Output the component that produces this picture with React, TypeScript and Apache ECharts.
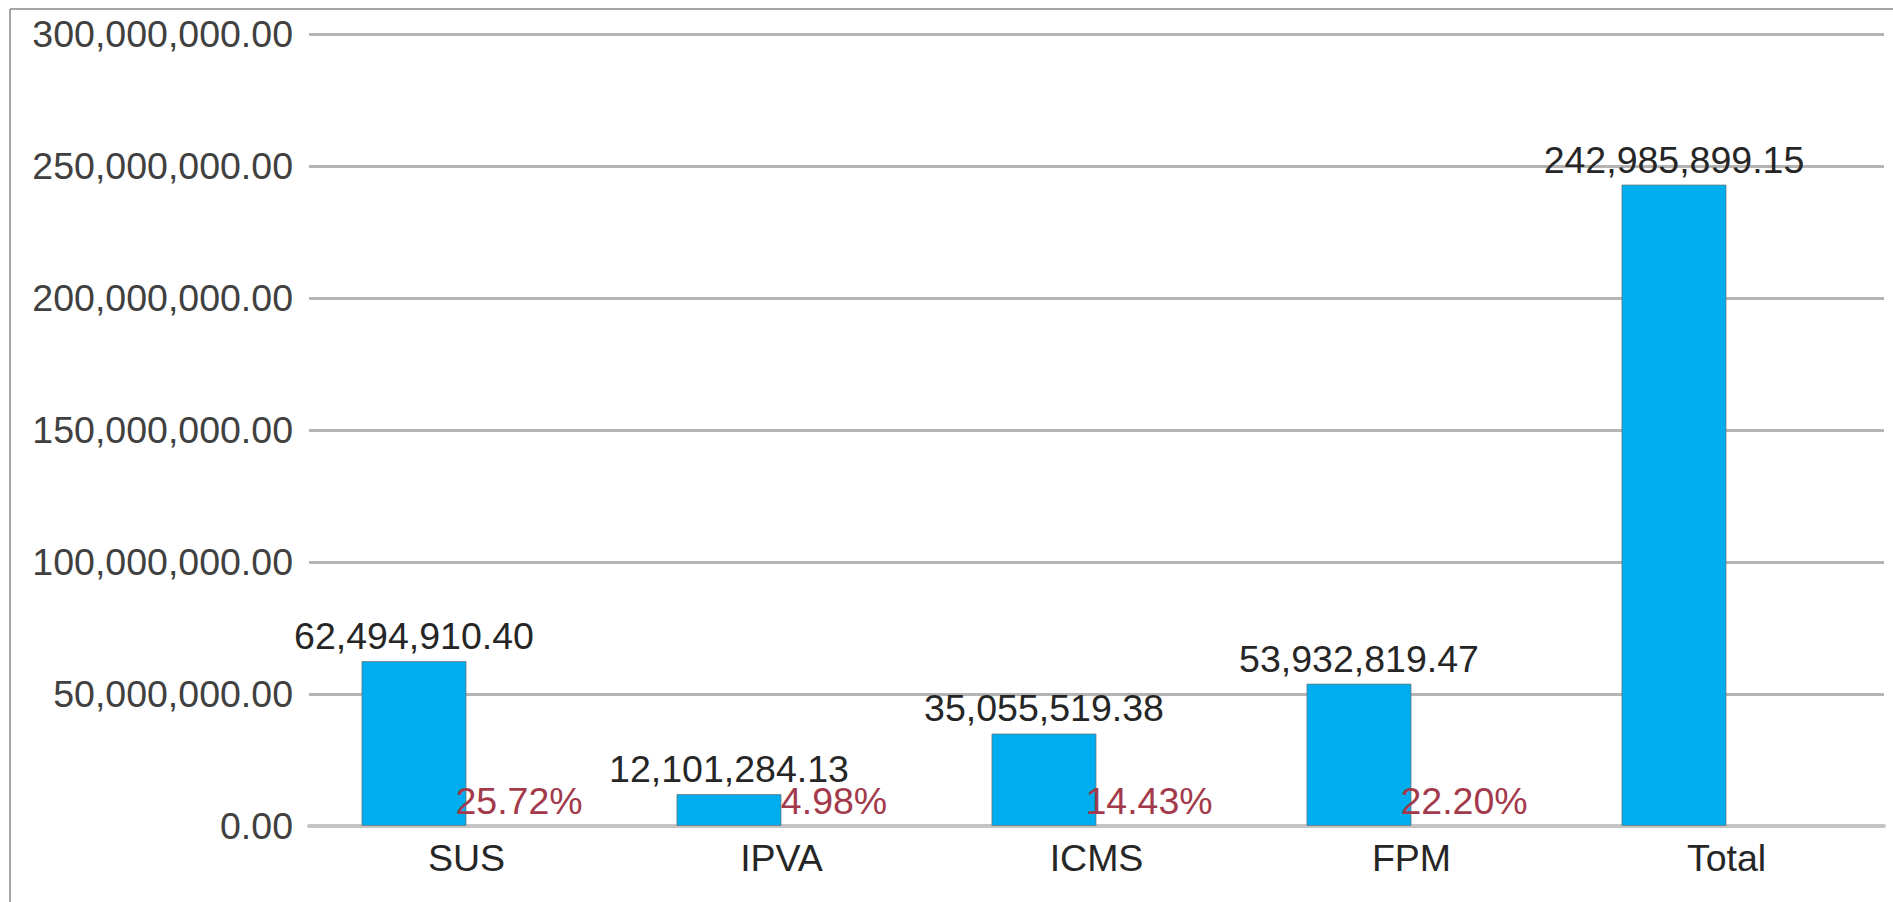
import React, { useEffect, useRef } from "react";
import * as echarts from "echarts";

const categories = ["SUS", "IPVA", "ICMS", "FPM", "Total"];
const amounts = [62494910.4, 12101284.13, 35055519.38, 53932819.47, 242985899.15];
const percents: (number | null)[] = [25.72, 4.98, 14.43, 22.2, null];
const yTicks = { min: 0, max: 300000000, interval: 50000000 };

const fmt = (v: number) =>
  v.toLocaleString("en-US", { minimumFractionDigits: 2, maximumFractionDigits: 2 });

export default function App() {
  const ref = useRef<HTMLDivElement>(null);
  useEffect(() => {
    if (!ref.current) return;
    const chart = echarts.init(ref.current, undefined, { renderer: "svg" });
    const font = "'Liberation Sans', Arial, sans-serif";
    const fs = 37.5;
    chart.setOption({
      animation: false,
      backgroundColor: "#ffffff",
      textStyle: { fontFamily: font },
      grid: { left: 309, right: 9, top: 34, bottom: 76, containLabel: false },
      xAxis: {
        type: "category",
        data: categories,
        axisTick: { show: false },
        axisLine: { show: true, lineStyle: { color: "#c4c4c4", width: 4 } },
        axisLabel: { fontSize: fs, color: "#262626", margin: 13, fontFamily: font },
      },
      yAxis: [
        {
          type: "value",
          min: yTicks.min,
          max: yTicks.max,
          interval: yTicks.interval,
          axisLine: { show: false },
          axisTick: { show: false },
          axisLabel: {
            fontSize: fs,
            color: "#404040",
            margin: 16,
            fontFamily: font,
            formatter: (v: number) => fmt(v),
          },
          splitLine: { show: true, lineStyle: { color: "#b4b4b4", width: 3 } },
        },
        {
          type: "value",
          min: 0,
          max: 1000000000,
          show: false,
          splitLine: { show: false },
        },
      ],
      series: [
        {
          type: "bar",
          data: amounts,
          barGap: "0%",
          barCategoryGap: "33.3%",
          itemStyle: { color: "#00AEEF", borderColor: "rgba(110,110,110,0.7)", borderWidth: 1 },
          label: {
            show: true,
            position: "top",
            distance: 6,
            fontSize: fs,
            color: "#262626",
            fontFamily: font,
            formatter: (p: any) => fmt(p.value),
          },
        },
        {
          type: "bar",
          yAxisIndex: 1,
          data: percents.map((p) => (p === null ? "-" : p)),
          itemStyle: { color: "rgba(0,0,0,0)" },
          label: {
            show: true,
            position: "top",
            distance: 6,
            fontSize: fs,
            color: "#a33a4c",
            fontFamily: font,
            formatter: (p: any) => (typeof p.value === "number" ? p.value.toFixed(2) + "%" : ""),
          },
        },
      ],
      graphic: [
        {
          type: "line",
          shape: { x1: 10, y1: 9, x2: 1893, y2: 9 },
          style: { stroke: "#a6a6a6", lineWidth: 2 },
        },
        {
          type: "line",
          shape: { x1: 10, y1: 9, x2: 10, y2: 902 },
          style: { stroke: "#a6a6a6", lineWidth: 2 },
        },
      ],
    });
    return () => chart.dispose();
  }, []);
  return (
    <div
      ref={ref}
      style={{ position: "fixed", left: 0, top: 0, width: 1893, height: 902 }}
    />
  );
}
